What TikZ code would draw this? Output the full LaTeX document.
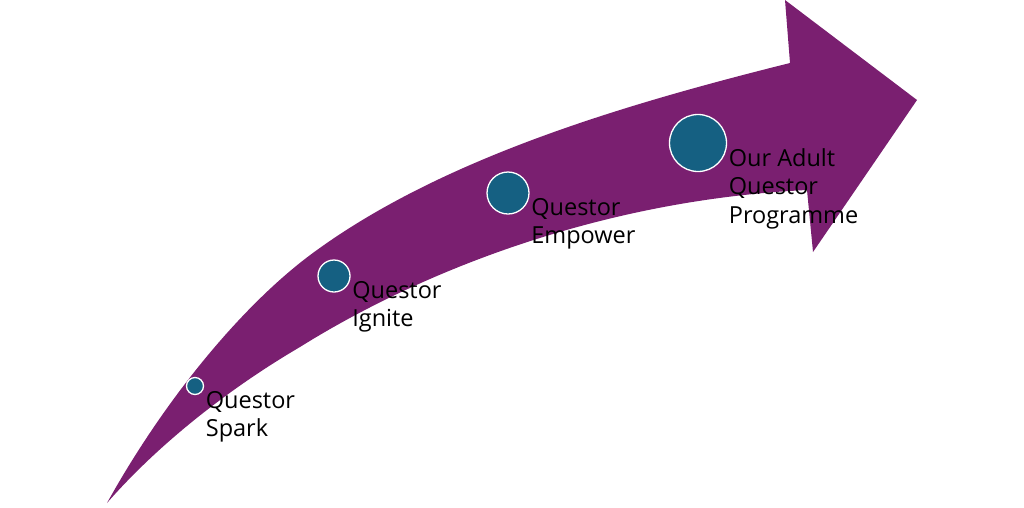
\documentclass[tikz,border=0pt]{standalone}
\usepackage{fontspec}
\setmainfont{Open Sans}
\definecolor{questpurple}{RGB}{122,31,112}
\definecolor{questteal}{RGB}{21,96,130}

\begin{document}
\begin{tikzpicture}[x=1pt, y=-1pt, dot/.style={circle, draw=white, line width=1.3pt, fill=questteal, inner sep=0pt}, lbl/.style={anchor=north west, align=left, inner xsep=1.5pt, inner ysep=5pt, font=\fontsize{23.5}{28.5}\selectfont}]
\useasboundingbox (0,0) rectangle (1024,507);
% curved arrow
\fill[questpurple] (107,503) .. controls (167,395) and (247,300) .. (317,250) .. controls (447,156) and (630,103) .. (790,63) -- (785,0) -- (917,100) -- (813,252) -- (807,190) .. controls (600,200) and (420,272) .. (300,347) .. controls (235,385) and (162,440) .. cycle;
% stages
\node[dot, minimum size=17pt] (spark) at (195,386) {};
\node[dot, minimum size=32pt] (ignite) at (334,276) {};
\node[dot, minimum size=42pt] (empower) at (508,193) {};
\node[dot, minimum size=57pt] (adult) at (698,143) {};
\node[lbl] (sparktxt) at (spark.east) {Questor\\Spark};
\node[lbl] (ignitetxt) at (ignite.east) {Questor\\Ignite};
\node[lbl] (empowertxt) at (empower.east) {Questor\\Empower};
\node[lbl] (adulttxt) at (adult.east) {Our Adult\\Questor\\Programme};
\end{tikzpicture}
\end{document}
